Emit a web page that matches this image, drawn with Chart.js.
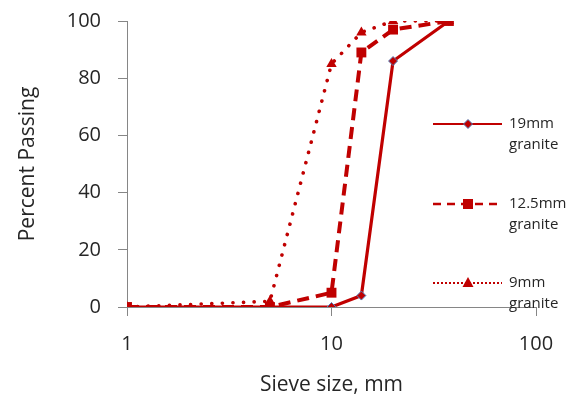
<!DOCTYPE html>
<html>
<head>
<meta charset="utf-8">
<script src="https://cdn.jsdelivr.net/npm/chart.js@4.4.1/dist/chart.umd.min.js"></script>
<style>
	html, body { margin: 0; padding: 0; background: #fff; }
	#wrap { width: 578px; height: 407px; position: relative; }
</style>
</head>
<body>
<div id="wrap"><canvas id="chart" width="578" height="407"></canvas></div>
<script>
// Sieve sizes (mm) and percent passing for each aggregate
const sieveSizes = [1, 5, 10, 14, 20, 37.5];
const passing19mm = [0, 0, 0, 4, 86, 100];
const passing125mm = [0, 0, 5, 89, 97, 100];
const passing9mm = [0, 2, 85, 96, 100, 100];
const seriesNames = [['19mm', 'granite'], ['12.5mm', 'granite'], ['9mm', 'granite']];
const xTickValues = [1, 10, 100];

const RED = '#C00000';
const AXIS_GREY = '#868686';
const TEXT = '#262626';
const FONT = "'Open Sans', sans-serif";

function toPoints(values) {
	return sieveSizes.map((x, i) => ({ x: x, y: values[i] }));
}

// legend drawn at the right, over the plot, like the original
const sideLegend = {
	id: 'sideLegend',
	afterDraw(chart) {
		const ctx = chart.ctx;
		const rows = [124, 204, 283];
		const x0 = 433, x1 = 502, xm = 468, xt = 509;
		const lineStyles = [
			{ dash: [], width: 2 },
			{ dash: [8, 6], width: 2.5 },
			{ dash: [2, 2], width: 2 },
		];
		ctx.save();
		chart.data.datasets.forEach((ds, i) => {
			const y = rows[i];
			ctx.strokeStyle = RED;
			ctx.lineWidth = lineStyles[i].width;
			ctx.setLineDash(lineStyles[i].dash);
			ctx.lineCap = 'butt';
			ctx.beginPath();
			ctx.moveTo(x0, y);
			ctx.lineTo(x1, y);
			ctx.stroke();
			ctx.setLineDash([]);

			ctx.fillStyle = RED;
			ctx.beginPath();
			if (ds.pointStyle === 'rectRot') {
				const r = 4.5;
				ctx.moveTo(xm, y - r);
				ctx.lineTo(xm + r, y);
				ctx.lineTo(xm, y + r);
				ctx.lineTo(xm - r, y);
				ctx.closePath();
				ctx.fill();
				ctx.strokeStyle = '#4F81BD';
				ctx.lineWidth = 1;
				ctx.stroke();
			} else if (ds.pointStyle === 'rect') {
				ctx.rect(xm - 5, y - 5, 10, 10);
				ctx.fill();
			} else {
				ctx.moveTo(xm, y - 6);
				ctx.lineTo(xm + 5.5, y + 4);
				ctx.lineTo(xm - 5.5, y + 4);
				ctx.closePath();
				ctx.fill();
			}

			ctx.fillStyle = TEXT;
			ctx.font = '15px ' + FONT;
			ctx.textAlign = 'left';
			ctx.textBaseline = 'middle';
			seriesNames[i].forEach((line, k) => {
				ctx.fillText(line, xt, y + k * 21);
			});
		});
		ctx.restore();
	},
};

const ctx = document.getElementById('chart').getContext('2d');
new Chart(ctx, {
	type: 'line',
	data: {
		datasets: [
			{
				label: '19mm granite',
				data: toPoints(passing19mm),
				borderColor: RED,
				backgroundColor: RED,
				borderWidth: 3.2,
				pointStyle: 'rectRot',
				pointRadius: 4.5,
				pointBorderColor: '#4F81BD',
				pointBorderWidth: 1,
				tension: 0,
				order: 1,
			},
			{
				label: '12.5mm granite',
				data: toPoints(passing125mm),
				borderColor: RED,
				backgroundColor: RED,
				borderWidth: 4,
				borderDash: [12, 7],
				pointStyle: 'rect',
				pointRadius: 7,
				pointBorderWidth: 0,
				tension: 0,
				order: 0,
			},
			{
				label: '9mm granite',
				data: toPoints(passing9mm),
				borderColor: RED,
				backgroundColor: RED,
				borderWidth: 3.6,
				borderDash: [0.1, 10.5],
				borderCapStyle: 'round',
				pointStyle: 'triangle',
				pointRadius: 6,
				pointBorderWidth: 0,
				tension: 0,
				order: 2,
			},
		],
	},
	options: {
		responsive: false,
		animation: false,
		layout: { padding: { top: 21, right: 42, bottom: 0, left: 0 } },
		plugins: {
			legend: { display: false },
			tooltip: { enabled: false },
		},
		scales: {
			x: {
				type: 'logarithmic',
				min: 1,
				max: 100,
				afterBuildTicks: (scale) => {
					scale.ticks = xTickValues.map((v) => ({ value: v }));
				},
				afterFit: (scale) => {
					scale.height = 100;
					scale.paddingLeft = 0;
					scale.paddingRight = 0;
				},
				border: { display: true, color: AXIS_GREY, width: 1 },
				grid: { drawOnChartArea: false, drawTicks: true, tickLength: 9, color: AXIS_GREY },
				ticks: {
					color: TEXT,
					font: { family: FONT, size: 20 },
					padding: 16,
					maxRotation: 0,
					autoSkip: false,
					callback: (value) => String(value),
				},
				title: {
					display: true,
					text: 'Sieve size, mm',
					color: TEXT,
					font: { family: FONT, size: 21 },
					padding: { top: 0, bottom: 9 },
				},
			},
			y: {
				min: 0,
				max: 100,
				afterFit: (scale) => {
					scale.width = 127;
					scale.paddingTop = 0;
					scale.paddingBottom = 0;
				},
				border: { display: true, color: AXIS_GREY, width: 1 },
				grid: { drawOnChartArea: false, drawTicks: true, tickLength: 9, color: AXIS_GREY },
				ticks: {
					stepSize: 20,
					color: TEXT,
					font: { family: FONT, size: 20 },
					padding: 17,
				},
				title: {
					display: true,
					text: 'Percent Passing',
					color: TEXT,
					font: { family: FONT, size: 21 },
					padding: { top: 15, bottom: 0 },
				},
			},
		},
	},
	plugins: [sideLegend],
});
</script>
</body>
</html>
